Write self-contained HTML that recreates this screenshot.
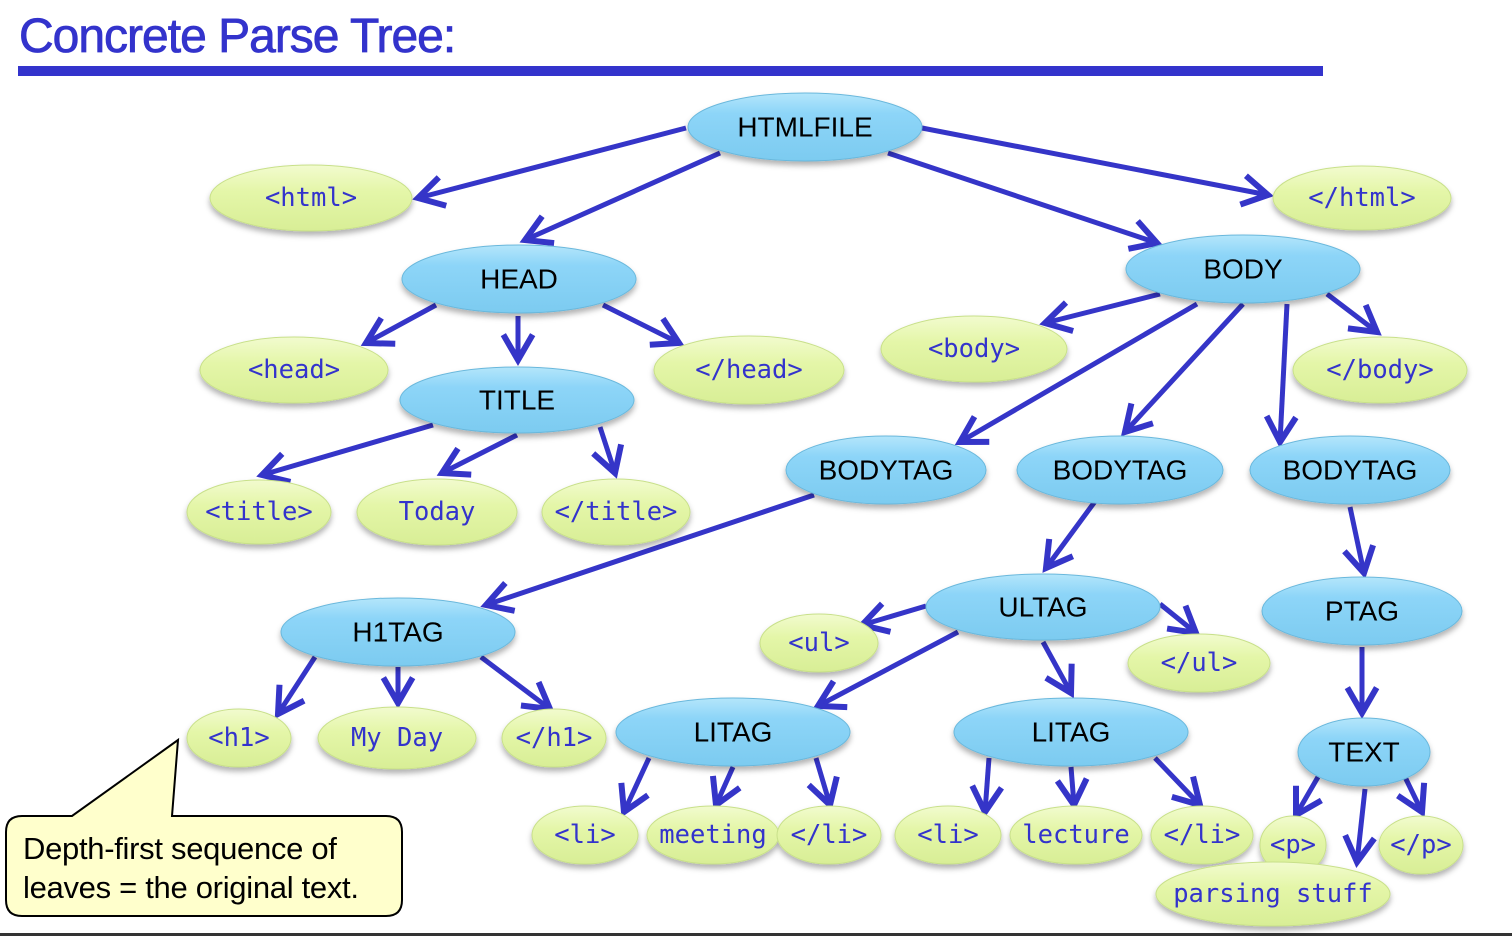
<!DOCTYPE html>
<html><head><meta charset="utf-8"><style>
html,body{margin:0;padding:0;background:#fff;}
svg{display:block;}
.i{font-family:"Liberation Sans",sans-serif;font-size:28px;fill:#000;text-anchor:middle;dominant-baseline:central;}
.l{font-family:"DejaVu Sans Mono","Liberation Mono",monospace;font-size:25.5px;fill:#3333cc;text-anchor:middle;dominant-baseline:central;}
</style></head><body>
<svg width="1512" height="936" viewBox="0 0 1512 936" xmlns="http://www.w3.org/2000/svg">
<defs>
<linearGradient id="gb" x1="0" y1="0" x2="0" y2="1"><stop offset="0" stop-color="#b4e6fb"/><stop offset="0.3" stop-color="#8dd5f8"/><stop offset="1" stop-color="#7ccbf0"/></linearGradient>
<linearGradient id="gg" x1="0" y1="0" x2="0" y2="1"><stop offset="0" stop-color="#f2fbcf"/><stop offset="0.4" stop-color="#e4f6a8"/><stop offset="1" stop-color="#d8ee96"/></linearGradient>
<filter id="sh" x="-20%" y="-20%" width="140%" height="160%"><feDropShadow dx="0" dy="4" stdDeviation="3" flood-color="#000" flood-opacity="0.3"/></filter>
<marker id="a" markerUnits="userSpaceOnUse" markerWidth="40" markerHeight="40" viewBox="-25 -15 30 30" refX="0" refY="0" orient="auto"><path d="M-19,-11 L0,0 L-19,11" fill="none" stroke="#3535c8" stroke-width="4.5" stroke-linejoin="miter"/></marker>
</defs>
<text x="19" y="52" font-family="Liberation Sans,sans-serif" font-size="48" fill="#3333cc" stroke="#3333cc" stroke-width="0.8" letter-spacing="-1">Concrete Parse Tree:</text>
<rect x="18" y="66" width="1305" height="10" fill="#3333cc"/>
<rect x="0" y="933" width="1512" height="3" fill="#333"/>
<g stroke="#3535c8" stroke-width="5" fill="none" marker-end="url(#a)">
<line x1="686" y1="128" x2="418" y2="198"/>
<line x1="720" y1="153" x2="525" y2="240"/>
<line x1="922" y1="128" x2="1268" y2="195"/>
<line x1="888" y1="153" x2="1157" y2="243"/>
<line x1="436" y1="305" x2="366" y2="343"/>
<line x1="518" y1="316" x2="518" y2="360"/>
<line x1="603" y1="305" x2="679" y2="343"/>
<line x1="1160" y1="294" x2="1045" y2="323"/>
<line x1="1327" y1="294" x2="1377" y2="332"/>
<line x1="1197" y1="304" x2="960" y2="442"/>
<line x1="1243" y1="304" x2="1125" y2="432"/>
<line x1="1287" y1="304" x2="1280" y2="442"/>
<line x1="433" y1="425" x2="262" y2="475"/>
<line x1="517" y1="435" x2="442" y2="473"/>
<line x1="600" y1="427" x2="615" y2="473"/>
<line x1="814" y1="495" x2="486" y2="605"/>
<line x1="1099" y1="496" x2="1046" y2="568"/>
<line x1="1350" y1="507" x2="1364" y2="573"/>
<line x1="926" y1="606" x2="862" y2="625"/>
<line x1="1160" y1="604" x2="1196" y2="633"/>
<line x1="958" y1="632" x2="818" y2="706"/>
<line x1="1043" y1="642" x2="1071" y2="693"/>
<line x1="1362" y1="647" x2="1362" y2="713"/>
<line x1="315" y1="657" x2="278" y2="714"/>
<line x1="398" y1="667" x2="398" y2="703"/>
<line x1="481" y1="657" x2="550" y2="709"/>
<line x1="649" y1="758" x2="624" y2="812"/>
<line x1="733" y1="767" x2="716" y2="805"/>
<line x1="816" y1="758" x2="830" y2="805"/>
<line x1="989" y1="758" x2="985" y2="812"/>
<line x1="1071" y1="767" x2="1074" y2="805"/>
<line x1="1155" y1="758" x2="1200" y2="805"/>
<line x1="1318" y1="777" x2="1296" y2="815"/>
<line x1="1365" y1="789" x2="1357" y2="862"/>
<line x1="1405" y1="777" x2="1422" y2="812"/>
</g>
<g filter="url(#sh)" stroke="#6ab8dc" stroke-width="1" fill="url(#gb)">
<ellipse cx="805" cy="127" rx="117" ry="34"/>
<ellipse cx="519" cy="279" rx="117" ry="34"/>
<ellipse cx="1243" cy="269" rx="117" ry="34"/>
<ellipse cx="517" cy="400" rx="117" ry="33"/>
<ellipse cx="886" cy="470" rx="100" ry="34"/>
<ellipse cx="1120" cy="470" rx="103" ry="34"/>
<ellipse cx="1350" cy="470" rx="100" ry="34"/>
<ellipse cx="398" cy="632" rx="117" ry="34"/>
<ellipse cx="1043" cy="607" rx="117" ry="33"/>
<ellipse cx="1362" cy="611" rx="100" ry="34"/>
<ellipse cx="733" cy="732" rx="117" ry="34"/>
<ellipse cx="1071" cy="732" rx="117" ry="34"/>
<ellipse cx="1364" cy="752" rx="66" ry="34"/>
</g>
<g filter="url(#sh)" stroke="#c8e08a" stroke-width="1" fill="url(#gg)">
<ellipse cx="311" cy="198" rx="101" ry="33"/>
<ellipse cx="1362" cy="198" rx="89" ry="32"/>
<ellipse cx="294" cy="370" rx="94" ry="33"/>
<ellipse cx="749" cy="370" rx="95" ry="34"/>
<ellipse cx="974" cy="349" rx="93" ry="33"/>
<ellipse cx="1380" cy="370" rx="87" ry="33"/>
<ellipse cx="259" cy="512" rx="72" ry="32"/>
<ellipse cx="437" cy="512" rx="80" ry="33"/>
<ellipse cx="616" cy="512" rx="74" ry="33"/>
<ellipse cx="819" cy="643" rx="59" ry="29"/>
<ellipse cx="1199" cy="663" rx="71" ry="29"/>
<ellipse cx="239" cy="738" rx="52" ry="29"/>
<ellipse cx="397" cy="738" rx="79" ry="31"/>
<ellipse cx="554" cy="738" rx="52" ry="29"/>
<ellipse cx="585" cy="835" rx="53" ry="29"/>
<ellipse cx="713" cy="835" rx="66" ry="29"/>
<ellipse cx="829" cy="835" rx="52" ry="29"/>
<ellipse cx="948" cy="835" rx="53" ry="29"/>
<ellipse cx="1076" cy="835" rx="66" ry="29"/>
<ellipse cx="1202" cy="835" rx="51" ry="29"/>
<ellipse cx="1293" cy="845" rx="33" ry="29"/>
<ellipse cx="1421" cy="845" rx="42" ry="29"/>
<ellipse cx="1273" cy="894" rx="117" ry="32"/>
</g>
<text class="i" x="805" y="127">HTMLFILE</text>
<text class="i" x="519" y="279">HEAD</text>
<text class="i" x="1243" y="269">BODY</text>
<text class="i" x="517" y="400">TITLE</text>
<text class="i" x="886" y="470">BODYTAG</text>
<text class="i" x="1120" y="470">BODYTAG</text>
<text class="i" x="1350" y="470">BODYTAG</text>
<text class="i" x="398" y="632">H1TAG</text>
<text class="i" x="1043" y="607">ULTAG</text>
<text class="i" x="1362" y="611">PTAG</text>
<text class="i" x="733" y="732">LITAG</text>
<text class="i" x="1071" y="732">LITAG</text>
<text class="i" x="1364" y="752">TEXT</text>
<text class="l" x="311" y="198">&lt;html&gt;</text>
<text class="l" x="1362" y="198">&lt;/html&gt;</text>
<text class="l" x="294" y="370">&lt;head&gt;</text>
<text class="l" x="749" y="370">&lt;/head&gt;</text>
<text class="l" x="974" y="349">&lt;body&gt;</text>
<text class="l" x="1380" y="370">&lt;/body&gt;</text>
<text class="l" x="259" y="512">&lt;title&gt;</text>
<text class="l" x="437" y="512">Today</text>
<text class="l" x="616" y="512">&lt;/title&gt;</text>
<text class="l" x="819" y="643">&lt;ul&gt;</text>
<text class="l" x="1199" y="663">&lt;/ul&gt;</text>
<text class="l" x="239" y="738">&lt;h1&gt;</text>
<text class="l" x="397" y="738">My Day</text>
<text class="l" x="554" y="738">&lt;/h1&gt;</text>
<text class="l" x="585" y="835">&lt;li&gt;</text>
<text class="l" x="713" y="835">meeting</text>
<text class="l" x="829" y="835">&lt;/li&gt;</text>
<text class="l" x="948" y="835">&lt;li&gt;</text>
<text class="l" x="1076" y="835">lecture</text>
<text class="l" x="1202" y="835">&lt;/li&gt;</text>
<text class="l" x="1293" y="845">&lt;p&gt;</text>
<text class="l" x="1421" y="845">&lt;/p&gt;</text>
<text class="l" x="1273" y="894">parsing stuff</text>
<path d="M22,816 L72,816 L178,740 L172,816 L386,816 Q402,816 402,832 L402,900 Q402,916 386,916 L22,916 Q6,916 6,900 L6,832 Q6,816 22,816 Z" fill="#ffffcc" stroke="#000" stroke-width="2"/>
<text x="23" y="859" font-family="Liberation Sans,sans-serif" font-size="31" fill="#000" letter-spacing="-0.3">Depth-first sequence of</text>
<text x="23" y="898" font-family="Liberation Sans,sans-serif" font-size="31" fill="#000" letter-spacing="-0.3">leaves = the original text.</text>
</svg>
</body></html>
